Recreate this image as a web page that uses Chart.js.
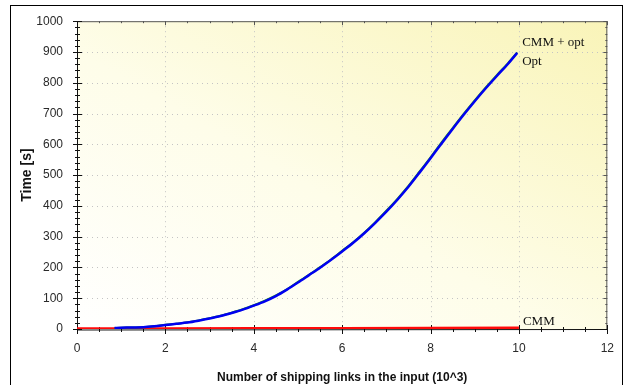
<!DOCTYPE html>
<html>
<head>
<meta charset="utf-8">
<script src="https://cdn.jsdelivr.net/npm/chart.js@4/dist/chart.umd.min.js"></script>
<style>
  html, body { margin: 0; padding: 0; background: #ffffff; }
  #wrap { width: 626px; height: 385px; position: relative; }
</style>
</head>
<body>
<div id="wrap"><canvas id="c" width="626" height="385"></canvas></div>
<script>
// ---- data ----
const optX = [0.85, 1.0, 1.25, 1.5, 1.75, 2.0, 2.25, 2.5, 2.75, 3.0, 3.25, 3.5, 3.75, 4.0, 4.25, 4.5, 4.75, 5.0, 5.25, 5.5, 5.75, 6.0, 6.25, 6.5, 6.75, 7.0, 7.25, 7.5, 7.75, 8.0, 8.25, 8.5, 8.75, 9.0, 9.25, 9.5, 9.75, 9.96];
const optY = [3, 4, 5, 6, 9, 13, 17, 21, 27, 34, 42, 52, 63, 76, 90, 107, 128, 151, 175, 199, 225, 252, 280, 311, 345, 381, 420, 462, 508, 555, 603, 650, 696, 740, 782, 822, 861, 897];
const cmmOptX = optX;
const cmmOptY = [3, 4, 5, 6, 9, 14, 17, 22, 28, 35, 43, 53, 64, 77, 92, 109, 129, 153, 176, 201, 226, 254, 282, 313, 347, 384, 423, 465, 511, 558, 606, 653, 699, 743, 785, 825, 863, 898];
const cmmX = [0, 2, 4, 6, 8, 10];
const cmmY = [1, 1, 1.5, 2, 2.5, 3];
const seriesNames = ["CMM + opt", "Opt", "CMM"];
const xTitle = "Number of shipping links in the input (10^3)";
const yTitle = "Time [s]";

const toPts = (xs, ys) => xs.map((x, i) => ({ x: x, y: ys[i] }));

const bgPlugin = {
  id: 'bg',
  beforeDraw(chart) {
    const { ctx, chartArea: a } = chart;
    ctx.save();
    // outer frame
    ctx.strokeStyle = '#000';
    ctx.lineWidth = 1;
    ctx.strokeRect(10.5, 5.5, 612, 390);
    // plot gradient: isolines parallel to the top-left/bottom-right diagonal
    const w = a.right - a.left, h = a.bottom - a.top;
    const cx = (a.left + a.right) / 2, cy = (a.top + a.bottom) / 2;
    const n = Math.hypot(w, h);
    const dx = h / n, dy = -w / n;
    const p0 = (a.left - cx) * dx + (a.bottom - cy) * dy;
    const p1 = (a.right - cx) * dx + (a.top - cy) * dy;
    const g = ctx.createLinearGradient(cx + dx * p0, cy + dy * p0, cx + dx * p1, cy + dy * p1);
    g.addColorStop(0, '#ffffff');
    g.addColorStop(0.45, '#fefde9');
    g.addColorStop(1, '#f9f4b8');
    ctx.fillStyle = g;
    ctx.fillRect(a.left, a.top, w, h);
    // dotted grid
    const xs = chart.scales.x, ys = chart.scales.y;
    ctx.strokeStyle = '#c4c4c4';
    ctx.setLineDash([1, 4]);
    for (let v = 2; v < 12; v += 2) {
      const px = Math.round(xs.getPixelForValue(v)) + 0.5;
      ctx.beginPath(); ctx.moveTo(px, a.top); ctx.lineTo(px, a.bottom); ctx.stroke();
    }
    for (let v = 100; v < 1000; v += 100) {
      const py = Math.round(ys.getPixelForValue(v)) + 0.5;
      ctx.beginPath(); ctx.moveTo(a.left, py); ctx.lineTo(a.right, py); ctx.stroke();
    }
    ctx.setLineDash([]);
    // plot border (top/right)
    ctx.strokeStyle = '#555';
    ctx.beginPath();
    ctx.moveTo(a.left, a.top + 0.5); ctx.lineTo(a.right - 0.5, a.top + 0.5); ctx.lineTo(a.right - 0.5, a.bottom);
    ctx.stroke();
    // ticks on top and right
    for (let v = 0; v <= 12; v += 0.5) {
      const px = Math.round(xs.getPixelForValue(v)) + 0.5;
      const len = (v % 2 === 0) ? 4 : 2;
      ctx.beginPath(); ctx.moveTo(px, a.top); ctx.lineTo(px, a.top + len); ctx.stroke();
    }
    for (let v = 0; v <= 1000; v += 20) {
      const py = Math.round(ys.getPixelForValue(v)) + 0.5;
      const len = (v % 100 === 0) ? 4 : 2;
      ctx.beginPath(); ctx.moveTo(a.right, py); ctx.lineTo(a.right - len, py); ctx.stroke();
    }
    // left and bottom axes
    ctx.strokeStyle = '#111';
    const lx = Math.round(a.left) + 0.5, by = Math.round(a.bottom) + 0.5;
    ctx.beginPath(); ctx.moveTo(lx, a.top); ctx.lineTo(lx, a.bottom + 1); ctx.lineTo(a.right, by); ctx.stroke();
    for (let v = 0; v <= 1000; v += 20) {
      const py = Math.round(ys.getPixelForValue(v)) + 0.5;
      const len = (v % 100 === 0) ? 4.5 : 2.5;
      ctx.beginPath(); ctx.moveTo(lx - len, py); ctx.lineTo(lx + len, py); ctx.stroke();
    }
    for (let v = 0; v <= 12; v += 0.5) {
      const px = Math.round(xs.getPixelForValue(v)) + 0.5;
      const len = (v % 2 === 0) ? 4.5 : 2.5;
      ctx.beginPath(); ctx.moveTo(px, by - len); ctx.lineTo(px, by + len); ctx.stroke();
    }
    ctx.restore();
  },
  afterDatasetsDraw(chart) {
    const { ctx } = chart;
    const xs = chart.scales.x, ys = chart.scales.y;
    ctx.save();
    ctx.font = '13px "Liberation Serif", "Times New Roman", serif';
    ctx.fillStyle = '#111';
    ctx.textBaseline = 'middle';
    ctx.textAlign = 'left';
    const lastOpt = { x: xs.getPixelForValue(cmmOptX[cmmOptX.length - 1]), y: ys.getPixelForValue(cmmOptY[cmmOptY.length - 1]) };
    ctx.fillText(seriesNames[0], lastOpt.x + 5, lastOpt.y - 10);
    ctx.fillText(seriesNames[1], lastOpt.x + 5, lastOpt.y + 9);
    const lastCmm = { x: xs.getPixelForValue(cmmX[cmmX.length - 1]), y: ys.getPixelForValue(cmmY[cmmY.length - 1]) };
    ctx.fillText(seriesNames[2], lastCmm.x + 4, lastCmm.y - 6);
    ctx.restore();
  }
};

const tickFont = { family: '"Liberation Sans", Arial, sans-serif', size: 12 };

new Chart(document.getElementById('c'), {
  type: 'scatter',
  data: {
    datasets: [
      { label: seriesNames[1], data: toPts(optX, optY), showLine: true, borderColor: '#0000f0', borderWidth: 2.5, pointRadius: 0, tension: 0.3, order: 0 },
      { label: seriesNames[0], data: toPts(cmmOptX, cmmOptY), showLine: true, borderColor: '#1f8a2a', borderWidth: 2, pointRadius: 0, tension: 0.3, order: 1 },
      { label: seriesNames[2], data: toPts(cmmX, cmmY), showLine: true, borderColor: '#ff0a0a', borderWidth: 3, pointRadius: 0, tension: 0, order: 2 }
    ]
  },
  options: {
    responsive: false,
    animation: false,
    devicePixelRatio: 1,
    layout: { padding: { left: 10, top: 16, right: 17, bottom: 0 } },
    plugins: { legend: { display: false }, tooltip: { enabled: false } },
    scales: {
      x: {
        type: 'linear', min: 0, max: 12,
        grid: { display: false, drawTicks: false },
        border: { display: false },
        ticks: { stepSize: 2, padding: 12, color: '#2a2a2a', font: tickFont, callback: (v) => String(v) },
        title: { display: true, text: xTitle, color: '#111', padding: { top: 7, bottom: 0 }, font: { family: '"Liberation Sans", Arial, sans-serif', size: 12, weight: 'bold' } },
        afterFit(s) { s.height = 56; }
      },
      y: {
        type: 'linear', min: 0, max: 1000,
        grid: { display: false, drawTicks: false },
        border: { display: false },
        ticks: { stepSize: 100, padding: 14, color: '#2a2a2a', font: tickFont, callback: (v) => String(v) },
        title: { display: true, text: yTitle, color: '#111', padding: { top: 9, bottom: 0 }, font: { family: '"Liberation Sans", Arial, sans-serif', size: 14, weight: 'bold' } },
        afterFit(s) { s.width = 67; }
      }
    }
  },
  plugins: [bgPlugin]
});
</script>
</body>
</html>
